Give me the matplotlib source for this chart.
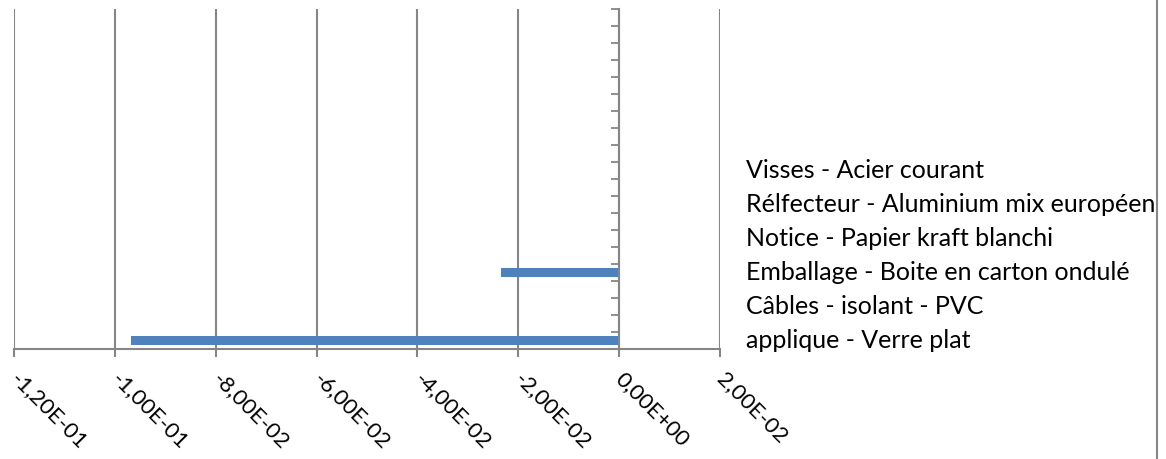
import matplotlib
matplotlib.use('Agg')

import numpy as np
import matplotlib.pyplot as plt
from matplotlib.ticker import FuncFormatter
from matplotlib.lines import Line2D

# category slots, bottom to top (labels shown on every other slot)
categories = [
    "applique - Verre plat", "",
    "Câbles - isolant - PVC", "",
    "Emballage - Boite en carton ondulé", "",
    "Notice - Papier kraft blanchi", "",
    "Rélfecteur - Aluminium mix européen", "",
    "Visses - Acier courant", "",
    "", "", "", "", "", "", "", "",
]
values = [-0.0967, 0, 0, 0, -0.0235, 0, 0, 0, 0, 0,
          0, 0, 0, 0, 0, 0, 0, 0, 0, 0]
x_ticks = [-0.12, -0.10, -0.08, -0.06, -0.04, -0.02, 0.0, 0.02]

GRAY = '#868686'
BLUE = '#4F81BD'

plt.rcParams['font.family'] = ['Lato', 'DejaVu Sans']

fig = plt.figure(figsize=(11.66, 4.59), dpi=100)
ax = fig.add_axes([14 / 1166, 110 / 459, 706 / 1166, 339.7 / 459])

ypos = np.arange(len(categories))
ax.barh(ypos, values, height=0.5, color=BLUE, zorder=3)

ax.set_xlim(-0.12, 0.02)
ax.set_ylim(-0.5, len(categories) - 0.5)
ax.set_xticks(x_ticks)
ax.xaxis.set_major_formatter(FuncFormatter(lambda v, p: f"{v:.2E}".replace('.', ',')))
ax.grid(axis='x', color=GRAY, linewidth=1.5, zorder=0)

# y axis sits at x = 0 with a tick at every slot boundary
ax.spines['left'].set_position(('data', 0))
for s in ['top', 'right']:
    ax.spines[s].set_visible(False)
for s in ['left', 'bottom']:
    ax.spines[s].set_color(GRAY)
    ax.spines[s].set_linewidth(1.5)
    ax.spines[s].set_zorder(4)
ax.set_yticks(np.arange(-0.5, len(categories), 1))
ax.set_yticklabels([])
ax.tick_params(axis='y', length=6, width=1.3, color=GRAY, direction='out')
ax.tick_params(axis='x', length=6, width=1.5, color=GRAY, direction='out', pad=13)

for lbl in ax.get_xticklabels():
    lbl.set_rotation(-45)
    lbl.set_rotation_mode('anchor')
    lbl.set_ha('left')
    lbl.set_va('center')
    lbl.set_fontsize(16)

# category names to the right of the plot
trans = ax.get_yaxis_transform()
for y, name in zip(ypos, categories):
    if name:
        ax.text(1.0 + 26 / 706, y, name, transform=trans, ha='left', va='center',
                fontsize=18, color='black', clip_on=False)

fig.add_artist(Line2D([1157 / 1166, 1157 / 1166], [0, 1], color=GRAY, linewidth=1.5,
                      transform=fig.transFigure))

fig.savefig('out.png', dpi=100)
